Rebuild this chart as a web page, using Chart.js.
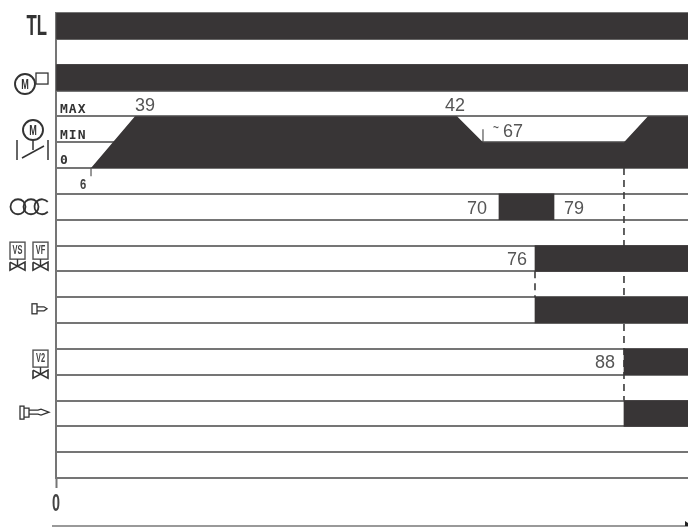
<!DOCTYPE html>
<html>
<head>
<meta charset="utf-8">
<title>Sequence chart</title>
<script src="https://cdn.jsdelivr.net/npm/chart.js@4/dist/chart.umd.js"></script>
<style>
  html, body { margin: 0; padding: 0; background: #fff; }
  canvas { display: block; }
</style>
</head>
<body>
<canvas id="myChart" width="688" height="527"></canvas>
<script>
// data block
const rowCount = 18;

// solid bars, rows are counted from the top
const barRows = [0, 2, 7, 9, 11, 13, 15];
const barStart = [0, 0, 70, 76, 76, 88, 88];
const barEnd = [96, 96, 79, 96, 96, 96, 96];

// damper position trace
const speedTime = [6, 39, 42, 67, 88, 91, 96];
const speedRow = [6, 4, 4, 5, 5, 4, 4];

const speedLabels = ['MAX', 'MIN', '0'];
const xTickLabels = [0];

// time stamps written next to the marks
const stampText = ['39', '42', '67', '70', '79', '76', '88'];
const stampTime = [39, 42, 67, 70, 79, 76, 88];
const stampRow = [3.62, 3.62, 4.6, 7.58, 7.58, 9.55, 13.55];

// the time axis of the diagram is not to scale: [time, share of the width]
const timeKnots = [
    [0, 0], [6, 0.0554], [39, 0.125], [42, 0.6345], [67, 0.6756],
    [70, 0.7009], [76, 0.7579], [79, 0.7880], [88, 0.8987], [96, 1]
];

class TimelineScale extends Chart.LinearScale {
    getPixelForValue(value) {
        let i = 1;
        while (i < timeKnots.length - 1 && value > timeKnots[i][0]) {
            i++;
        }
        const [t0, f0] = timeKnots[i - 1];
        const [t1, f1] = timeKnots[i];
        const share = f0 + (value - t0) / (t1 - t0) * (f1 - f0);
        return this.left + share * this.width;
    }
}
TimelineScale.id = 'timeline';
TimelineScale.defaults = {};
Chart.register(TimelineScale);

const darkFill = '#383536';
const lineGrey = '#757575';
const textGrey = '#555';
const sans = '"Liberation Sans", sans-serif';

// how each stamp sits around its time: [align, dx]
const stampPlace = [
    ['left', 0], ['center', -2], ['left', 20], ['right', -12],
    ['left', 10], ['right', -8], ['right', -9]
];

function verticalLine(time, from, to, dash) {
    return {
        type: 'line',
        data: [{x: time, y: from}, {x: time, y: to}],
        borderColor: dash ? '#3c3c3c' : '#555',
        borderWidth: dash ? 1.6 : 1.2,
        borderDash: dash ? [7, 5] : [],
        pointRadius: 0,
        fill: false
    };
}

const drawIcons = {
    id: 'drawIcons',
    afterDraw(chart) {
        const {ctx, chartArea, scales: {x, y}} = chart;
        const rowY = row => y.getPixelForValue(row);
        const left = chartArea.left;

        const text = (str, px, py, font, color, align) => {
            ctx.font = font;
            ctx.fillStyle = color;
            ctx.textAlign = align || 'center';
            ctx.textBaseline = 'middle';
            ctx.fillText(str, px, py);
        };
        // the icons use a condensed lettering, no such font here so squeeze it
        const narrowText = (str, px, py, size, color, squeeze, align) => {
            ctx.save();
            ctx.translate(px, py);
            ctx.scale(squeeze, 1);
            text(str, 0, 0, 'bold ' + size + 'px ' + sans, color, align);
            ctx.restore();
        };
        const line = (pts, width) => {
            ctx.lineWidth = width || 1.5;
            ctx.beginPath();
            pts.forEach((p, i) => i ? ctx.lineTo(p[0], p[1]) : ctx.moveTo(p[0], p[1]));
            ctx.stroke();
        };
        const circle = (cx, cy, r) => {
            ctx.beginPath();
            ctx.arc(cx, cy, r, 0, Math.PI * 2);
            ctx.stroke();
        };
        const motor = (cx, cy) => {
            ctx.lineWidth = 1.9;
            circle(cx, cy, 10);
            narrowText('M', cx, cy + 1, 14, '#333', 0.65);
        };
        const valve = (boxLeft, top, name) => {
            ctx.lineWidth = 1.4;
            ctx.strokeStyle = '#555';
            ctx.strokeRect(boxLeft, top, 15, 17);
            ctx.strokeStyle = '#333';
            narrowText(name, boxLeft + 7.5, top + 9, 12, '#444', 0.62);
            const bowTop = top + 20, bowBottom = top + 28;
            line([[boxLeft, bowTop], [boxLeft + 15, bowBottom], [boxLeft + 15, bowTop], [boxLeft, bowBottom], [boxLeft, bowTop]], 1.6);
            line([[boxLeft + 7.5, top + 17], [boxLeft + 7.5, top + 24]], 1.4);
        };

        ctx.save();
        ctx.strokeStyle = '#333';

        // time stamps
        stampText.forEach((str, i) => {
            const [align, dx] = stampPlace[i];
            text(str, x.getPixelForValue(stampTime[i]) + dx, rowY(stampRow[i]), '18px ' + sans, textGrey, align);
        });
        text('~', x.getPixelForValue(67) + 13, rowY(4.45), 'bold 10px ' + sans, textGrey);
        narrowText('6', x.getPixelForValue(6) - 8, rowY(6.65), 14, '#444', 0.8);

        // speed level names
        ctx.letterSpacing = '1px';
        speedLabels.forEach((str, i) => {
            text(str, left + 4, rowY(3.73 + i), 'bold 13px "DejaVu Sans Mono", monospace', '#333', 'left');
        });
        ctx.letterSpacing = '0px';

        // axis origin label, kept out of the scale so it can be condensed
        xTickLabels.forEach(v => {
            narrowText(String(v), x.getPixelForValue(v), chartArea.bottom + 26, 24, '#444', 0.6);
        });

        // row icons
        narrowText('TL', left - 9, rowY(0.55), 30, '#333', 0.56, 'right');

        const fanY = rowY(2.75);
        motor(left - 31, fanY);
        ctx.lineWidth = 1.3;
        ctx.strokeRect(left - 20, fanY - 11, 12, 11);

        const damperY = rowY(4.53);
        motor(left - 23, damperY);
        line([[left - 23, damperY + 10], [left - 23, damperY + 20]]);
        line([[left - 39, damperY + 10], [left - 39, damperY + 30]]);
        line([[left - 8, damperY + 10], [left - 8, damperY + 30]]);
        line([[left - 34, damperY + 28], [left - 12, damperY + 16]]);

        const compY = rowY(7.5);
        ctx.lineWidth = 1.8;
        circle(left - 38, compY, 7.5);
        circle(left - 25, compY, 7.5);
        ctx.beginPath();
        ctx.arc(left - 14, compY, 7.5, -0.7, 0.7, true);
        ctx.stroke();

        const valveTop = rowY(8.87);
        valve(left - 46, valveTop, 'VS');
        valve(left - 23, valveTop, 'VF');
        valve(left - 23, rowY(13.05), 'V2');

        const burnY = rowY(11.45);
        ctx.lineWidth = 1.3;
        ctx.strokeRect(left - 24, burnY - 5, 5, 10);
        line([[left - 19, burnY - 2], [left - 12, burnY - 2], [left - 9, burnY], [left - 12, burnY + 2], [left - 19, burnY + 2]], 1.3);

        const bigY = rowY(15.45);
        ctx.strokeRect(left - 36, bigY - 6, 4, 13);
        line([[left - 32, bigY - 4], [left - 27, bigY - 4], [left - 27, bigY + 5], [left - 32, bigY + 5]], 1.3);
        line([[left - 27, bigY - 2], [left - 18, bigY - 2], [left - 15, bigY - 3], [left - 7, bigY], [left - 15, bigY + 3], [left - 18, bigY + 2], [left - 27, bigY + 2]], 1.3);

        // closing arrow under the diagram
        const arrowY = chart.height - 1;
        ctx.strokeStyle = '#777';
        line([[left - 4, arrowY], [chart.width, arrowY]], 1.3);
        ctx.fillStyle = '#222';
        ctx.beginPath();
        ctx.moveTo(chart.width - 3, arrowY - 5);
        ctx.lineTo(chart.width, arrowY - 3);
        ctx.lineTo(chart.width, arrowY);
        ctx.lineTo(chart.width - 3, arrowY);
        ctx.fill();

        ctx.restore();
    }
};

// config block
const config = {
    type: 'bar',
    data: {
        datasets: [
            {
                type: 'bar',
                indexAxis: 'y',
                data: barRows.map((row, i) => ({y: row + 0.5, x: [barStart[i], barEnd[i]]})),
                backgroundColor: darkFill,
                borderWidth: 0,
                barPercentage: 1,
                categoryPercentage: 1
            },
            {
                type: 'line',
                data: speedTime.map((t, i) => ({x: t, y: speedRow[i]})),
                backgroundColor: darkFill,
                borderWidth: 0,
                pointRadius: 0,
                tension: 0,
                fill: {value: 6}
            },
            verticalLine(88, 6, 15, true),
            verticalLine(76, 10, 11, true),
            verticalLine(6, 6, 6.32, false),
            verticalLine(67, 4.5, 5, false)
        ]
    },
    options: {
        responsive: false,
        animation: false,
        devicePixelRatio: 1,
        layout: {padding: {left: 56, top: 13, right: 0, bottom: 39}},
        scales: {
            x: {
                type: 'timeline',
                min: 0,
                max: 96,
                offset: false,
                afterBuildTicks: scale => { scale.ticks = xTickLabels.map(v => ({value: v})); },
                border: {display: false},
                grid: {offset: false, drawOnChartArea: false, tickLength: 10, tickColor: lineGrey, tickWidth: 2},
                ticks: {display: false}
            },
            y: {
                type: 'linear',
                reverse: true,
                offset: false,
                min: 0,
                max: rowCount,
                border: {color: lineGrey, width: 2},
                grid: {offset: false, color: lineGrey, lineWidth: 2, drawTicks: false},
                ticks: {display: false, stepSize: 1}
            }
        },
        plugins: {
            legend: {display: false},
            title: {display: false},
            tooltip: {enabled: false}
        }
    },
    plugins: [drawIcons]
};

// init render block
const myChart = new Chart(document.getElementById('myChart'), config);
</script>
</body>
</html>
